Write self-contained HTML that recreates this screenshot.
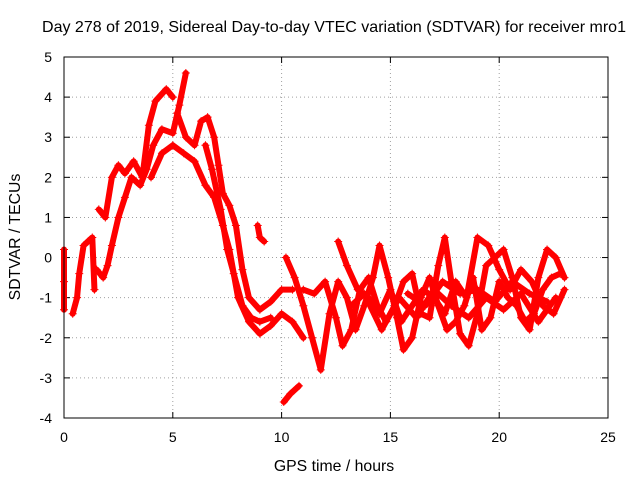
<!DOCTYPE html>
<html><head><meta charset="utf-8"><style>
body{margin:0;background:#fff;}
svg{display:block;font-family:"Liberation Sans",sans-serif;}
</style></head><body>
<svg id="chart" width="640" height="480">
<text x="334" y="32" font-size="16" text-anchor="middle">Day 278 of 2019, Sidereal Day-to-day VTEC variation (SDTVAR) for receiver mro1</text>
<text x="334" y="471" font-size="15.8" text-anchor="middle">GPS time / hours</text>
<text transform="translate(20,237) rotate(-90)" font-size="15.8" text-anchor="middle">SDTVAR / TECUs</text>
<g id="grid"></g><g id="ticks"></g><g id="series"></g>
<rect x="64" y="57" width="544" height="361" fill="none" stroke="#000" stroke-width="1"/>
</svg>
<script>
const xTicks=[0,5,10,15,20,25];
const yTicks=[-4,-3,-2,-1,0,1,2,3,4,5];
const track1=[[1.5,-0.3],[1.8,-0.5],[2.0,-0.2],[2.2,0.3],[2.5,1.0],[2.8,1.5],[3.1,2.0],[3.5,1.8],[3.8,2.2],[4.1,2.8],[4.5,3.2],[5.0,3.1],[5.3,3.8],[5.6,4.6]];
const track2=[[1.6,1.2],[1.9,1.0],[2.2,2.0],[2.5,2.3],[2.8,2.1],[3.2,2.4],[3.6,2.0],[3.9,3.3],[4.2,3.9],[4.7,4.2],[5.0,4.0]];
const track3=[[4.0,2.0],[4.5,2.6],[5.0,2.8],[5.5,2.6],[6.0,2.4],[6.5,1.8],[6.9,1.5],[7.3,0.8],[7.6,0.2],[8.0,-1.0],[8.5,-1.6],[9.0,-1.9],[9.5,-1.7],[10,-1.4],[10.5,-1.6],[11,-2.0]];
const track4=[[5.2,3.6],[5.6,3.0],[6.0,2.8],[6.3,3.4],[6.6,3.5],[6.9,3.0],[7.1,2.3],[7.3,1.6],[7.6,1.3],[7.9,0.8],[8.2,-0.3],[8.5,-1.0],[9,-1.3],[9.5,-1.1],[10,-0.8],[10.5,-0.8]];
const track5=[[6.5,2.8],[6.8,2.2],[7.2,1.2],[7.5,0.2],[7.8,-0.4],[8.2,-1.2],[8.6,-1.5],[9,-1.6],[9.5,-1.5]];
const track6=[[10.2,0.0],[10.6,-0.5],[11,-1.2],[11.4,-2.0],[11.8,-2.8],[12.2,-1.4],[12.6,-0.6],[13.0,-1.0],[13.4,-1.8],[13.8,-1.2],[14.2,-0.5],[14.5,0.3],[14.9,-0.5],[15.3,-1.5],[15.6,-2.3],[16,-2.0],[16.4,-1.0],[16.8,-0.5],[17.2,-1.2],[17.6,-1.8],[18,-1.6],[18.4,-1.2],[18.8,-0.5],[19.2,-1.8],[19.6,-1.5],[20,-0.6],[20.4,-1.0],[20.8,-1.2],[21.2,-1.6],[21.6,-1.4],[22,-0.8],[22.4,-0.5],[22.8,-0.4]];
const track7=[[11,-0.8],[11.5,-0.9],[12,-0.6],[12.5,-1.5],[12.8,-2.2],[13.2,-1.8],[13.6,-0.8],[14,-0.5],[14.4,-1.2],[14.8,-1.6],[15.2,-1.2],[15.6,-0.6],[16,-0.4],[16.4,-1.4],[16.8,-1.5],[17.2,-0.2],[17.5,0.5],[17.8,-0.6],[18.2,-1.9],[18.6,-2.2],[19,-1.4],[19.4,-0.2],[19.8,0.0],[20.2,0.2],[20.6,-0.5],[21,-1.5],[21.4,-1.8],[21.8,-0.5],[22.2,0.2],[22.6,0.0],[23,-0.5]];
const track8=[[12.6,0.4],[13,-0.2],[13.5,-0.8],[14,-1.0],[14.5,-1.4],[15,-0.8],[15.5,-1.6],[16,-1.2],[16.5,-0.8],[17,-1.0],[17.5,-1.4],[18,-0.6],[18.5,-1.0],[19,0.5],[19.5,0.3],[20,-0.3],[20.5,-0.8],[21,-0.3],[21.5,-0.6],[22,-1.2],[22.5,-1.4],[23,-0.8]];
const track9=[[0,0.2],[0,-0.6],[0,-1.3]];
const track10=[[0.4,-1.4],[0.6,-1.0],[0.7,-0.4],[0.9,0.3],[1.1,0.4],[1.3,0.5],[1.4,-0.8]];
const track11=[[8.9,0.8],[9.0,0.5],[9.2,0.4]];
const track12=[[10.1,-3.6],[10.4,-3.4],[10.8,-3.2]];
const track13=[[13.2,-1.2],[13.8,-0.9],[14.6,-1.8],[15.4,-1.0],[16.2,-1.5],[17,-0.8],[17.8,-1.2],[18.6,-1.5],[19.4,-1.0],[20.2,-1.3],[21,-0.9],[21.8,-1.6],[22.6,-1.0]];
const track14=[[15.8,-0.9],[16.6,-1.2],[17.4,-0.6],[18.2,-0.9],[19,-0.8],[19.8,-1.1],[20.6,-0.6],[21.4,-0.9],[22.2,-1.1]];
const tracks=[track1,track2,track3,track4,track5,track6,track7,track8,track9,track10,track11,track12,track13,track14];
const NS="http://www.w3.org/2000/svg";
const X0=64,X1=608,Y0=418,Y1=57;
function xs(t){return X0+(t-0)/(25-0)*(X1-X0);}
function ys(v){return Y0-(v+4)/(5+4)*(Y0-Y1);}
function mk(tag,attrs,parent){const e=document.createElementNS(NS,tag);for(const k in attrs)e.setAttribute(k,attrs[k]);parent.appendChild(e);return e;}
const grid=document.getElementById('grid'),ticks=document.getElementById('ticks'),ser=document.getElementById('series');
xTicks.forEach(t=>{
 const x=xs(t);
 if(t>0&&t<25){const g=mk('line',{x1:x,x2:x,y1:Y1,y2:Y0,stroke:'#a0a0a0','stroke-dasharray':'1,3'},grid);
 
 }
 mk('line',{x1:x,x2:x,y1:Y0,y2:Y0-6,stroke:'#000'},ticks);
 mk('line',{x1:x,x2:x,y1:Y1,y2:Y1+6,stroke:'#000'},ticks);
 const l=mk('text',{x:x,y:Y0+24,'font-size':'14','text-anchor':'middle'},ticks);l.textContent=t;
 
 
});
yTicks.forEach(v=>{
 const y=ys(v);
 if(v>-4&&v<5){const g=mk('line',{x1:X0,x2:X1,y1:y,y2:y,stroke:'#a0a0a0','stroke-dasharray':'1,3'},grid);
 
 }
 mk('line',{x1:X0,x2:X0+6,y1:y,y2:y,stroke:'#000'},ticks);
 mk('line',{x1:X1,x2:X1-6,y1:y,y2:y,stroke:'#000'},ticks);
 const l=mk('text',{x:X0-12,y:y+5,'font-size':'14','text-anchor':'end'},ticks);l.textContent=v;
 
 
});
tracks.forEach((tr,i)=>{
 const g=mk('g',{},ser);
 
 
 const pts=tr.map(p=>xs(p[0])+','+ys(p[1])).join(' ');
 mk('polyline',{points:pts,fill:'none',stroke:'#f00','stroke-width':'6','stroke-linejoin':'round','stroke-linecap':'round'},g);
 tr.forEach(p=>{
  const x=xs(p[0]),y=ys(p[1]);
  const m=mk('path',{d:`M${x-4},${y}H${x+4}M${x},${y-4}V${y+4}`,stroke:'#f00','stroke-width':'1'},g);
  
  
 });
});
</script>
</body></html>
